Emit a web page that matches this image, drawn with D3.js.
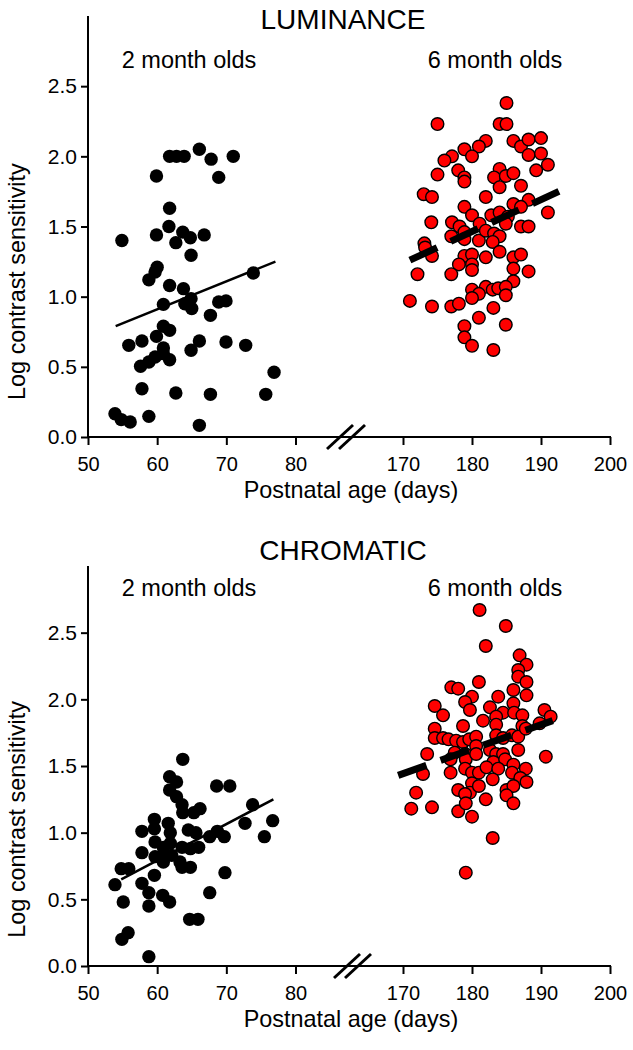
<!DOCTYPE html>
<html><head><meta charset="utf-8">
<script src="https://cdn.jsdelivr.net/npm/d3@7"></script>
<style>body{margin:0;background:#fff}svg{display:block}text{font-family:"Liberation Sans",Arial,Helvetica,sans-serif;fill:#000}</style>
</head><body><svg id="c" width="633" height="1050"></svg>
<script>
// ---------- data ----------
const xTicksLeft = [50, 60, 70, 80];
const xTicksRight = [170, 180, 190, 200];
const yTicks = [0, 0.5, 1.0, 1.5, 2.0, 2.5];
const panelTitles = ["LUMINANCE", "CHROMATIC"];
const groupLabels = ["2 month olds", "6 month olds"];
const xAxisLabel = "Postnatal age (days)";
const yAxisLabel = "Log contrast sensitivity";

// Luminance, 2 month olds [age, log CS]
const lum2 = [[59.9,1.86],[61.8,2.0],[62.8,2.0],[63.9,2.0],[66.1,2.05],[67.8,1.98],[68.9,1.85],[71.0,2.0],[61.8,1.63],
[54.9,1.40],[59.9,1.44],[61.7,1.50],[63.7,1.46],[64.8,1.42],[66.8,1.44],[62.7,1.385],[64.9,1.295],[60.0,1.21],[59.7,1.176],
[58.8,1.12],[61.8,1.08],[63.8,1.057],[64.9,0.986],[64.0,0.95],[65.0,0.915],[60.9,0.945],[68.9,0.962],[69.95,0.97],[67.7,0.867],
[73.9,1.169],[60.9,0.789],[61.8,0.76],[59.9,0.717],[55.9,0.653],[57.8,0.684],[60.9,0.634],[66.1,0.684],[64.9,0.618],[69.95,0.677],
[72.8,0.653],[57.6,0.504],[58.8,0.534],[59.7,0.57],[60.9,0.594],[61.8,0.551],[76.9,0.461],[57.8,0.344],[62.7,0.314],[67.7,0.304],
[75.7,0.304],[53.9,0.166],[54.8,0.124],[56.1,0.107],[58.8,0.147],[66.1,0.083]];
// Luminance, 6 month olds
const lum6 = [[185.0,2.38],[175.0,2.23],[184.0,2.23],[185.0,2.23],[186.0,2.11],[187.1,2.07],[188.2,2.12],[190.0,2.13],[182.0,2.11],
[181.0,2.07],[178.9,2.05],[177.1,2.0],[176.0,1.97],[180.0,2.0],[188.2,2.01],[190.0,2.02],[189.3,1.9],[191.0,1.94],[175.0,1.87],
[178.0,1.9],[178.9,1.85],[178.9,1.82],[184.0,1.91],[183.2,1.85],[184.9,1.86],[186.0,1.88],[184.0,1.78],[187.1,1.79],[173.0,1.73],
[174.2,1.71],[182.0,1.71],[178.9,1.64],[188.2,1.69],[186.0,1.66],[187.1,1.64],[191.0,1.6],[174.1,1.53],[177.1,1.53],[178.2,1.5],
[180.0,1.58],[181.1,1.52],[182.8,1.58],[184.0,1.6],[185.2,1.57],[184.9,1.52],[187.1,1.5],[188.2,1.5],[177.0,1.43],[178.9,1.46],
[178.9,1.41],[181.0,1.4],[182.0,1.47],[183.2,1.45],[184.0,1.43],[183.0,1.39],[173.1,1.38],[173.2,1.35],[178.9,1.29],[180.0,1.3],
[182.0,1.28],[184.0,1.32],[186.0,1.28],[187.1,1.3],[174.2,1.29],[186.0,1.2],[188.2,1.18],[178.1,1.23],[180.0,1.23],[180.0,1.19],
[172.1,1.16],[177.0,1.16],[186.0,1.11],[182.0,1.07],[180.0,1.05],[181.0,1.02],[180.0,0.99],[183.0,1.05],[183.8,1.06],[184.9,1.07],
[184.9,1.01],[171.0,0.97],[174.2,0.93],[177.0,0.93],[178.1,0.95],[183.1,0.92],[181.0,0.85],[184.9,0.8],[178.9,0.79],[178.9,0.71],
[180.0,0.65],[183.1,0.62]];
// Chromatic, 2 month olds
const chr2 = [[63.7,1.55],[61.8,1.42],[62.8,1.38],[61.8,1.32],[62.8,1.27],[63.6,1.21],[63.7,1.15],[66.2,1.18],[65.3,1.15],[68.6,1.35],
[70.5,1.35],[73.8,1.21],[76.7,1.09],[72.7,1.07],[75.5,0.97],[69.7,0.97],[68.7,1.01],[67.6,0.97],[59.6,1.10],[59.6,1.03],[57.8,1.01],
[61.6,1.07],[61.9,1.00],[64.5,1.02],[65.6,1.00],[59.7,0.93],[60.9,0.89],[61.9,0.92],[63.6,0.89],[64.8,0.88],[66.0,0.89],[57.8,0.85],
[59.7,0.82],[60.9,0.83],[62.1,0.83],[60.9,0.78],[63.3,0.78],[63.6,0.74],[64.8,0.74],[54.8,0.73],[55.9,0.73],[59.6,0.68],[53.9,0.61],
[57.8,0.62],[69.8,0.70],[67.6,0.55],[58.8,0.55],[60.8,0.53],[61.8,0.48],[55.1,0.48],[58.8,0.45],[64.7,0.35],[65.9,0.35],[54.9,0.20],
[55.8,0.25],[58.8,0.07]];
// Chromatic, 6 month olds
const chr6 = [[181.1,2.67],[184.9,2.55],[182.0,2.40],[186.9,2.33],[187.9,2.26],[186.7,2.22],[186.7,2.17],[187.9,2.13],[181.0,2.13],
[187.9,2.03],[186.0,2.07],[177.0,2.09],[178.0,2.08],[180.0,2.02],[179.0,1.98],[179.7,1.92],[183.8,2.02],[186.0,1.97],[174.6,1.95],
[175.8,1.88],[182.6,1.94],[184.5,1.90],[186.1,1.90],[187.3,1.88],[190.5,1.92],[191.4,1.87],[181.6,1.84],[183.5,1.87],[183.5,1.81],
[187.3,1.80],[189.8,1.82],[174.6,1.78],[178.7,1.80],[174.6,1.71],[175.8,1.71],[176.6,1.70],[177.7,1.69],[178.7,1.68],[179.6,1.70],
[180.6,1.72],[180.6,1.65],[183.5,1.73],[184.5,1.71],[185.8,1.73],[186.7,1.72],[187.8,1.78],[173.5,1.59],[177.5,1.60],[176.9,1.55],
[179.0,1.59],[179.1,1.55],[180.6,1.59],[182.6,1.62],[183.5,1.59],[184.5,1.59],[186.7,1.62],[190.7,1.57],[183.1,1.53],[184.8,1.55],
[186.0,1.51],[187.8,1.48],[176.9,1.45],[172.9,1.44],[179.0,1.48],[180.0,1.45],[181.0,1.45],[182.1,1.49],[183.8,1.48],[185.8,1.45],
[187.0,1.41],[187.9,1.38],[183.0,1.40],[180.0,1.37],[178.0,1.32],[179.7,1.30],[185.0,1.32],[186.0,1.35],[171.9,1.30],[181.0,1.35],
[179.0,1.29],[185.0,1.28],[186.0,1.22],[182.0,1.25],[171.2,1.18],[174.2,1.19],[178.0,1.16],[179.1,1.22],[180.0,1.12],[183.0,0.96],
[179.1,0.70]];
// regression line end points [[age0, v0],[age1, v1]]
const lum2Fit = [[54.0,0.79],[77.1,1.25]];
const lum6Fit = [[171.0,1.26],[192.6,1.75]];
const chr2Fit = [[54.8,0.65],[76.8,1.25]];
const chr6Fit = [[169.3,1.43],[191.7,1.84]];

// ---------- drawing ----------
const svg = d3.select("#c");
const xL = d3.scaleLinear().domain([50, 80]).range([88, 295.5]);
const xR = d3.scaleLinear().domain([170, 200]).range([403, 610]);

const panels = [
  {title: panelTitles[0], y: d3.scaleLinear().domain([0, 3]).range([437, 16]), d2: lum2, d6: lum6, f2: lum2Fit, f6: lum6Fit,
   titleY: 29, subY: 68, brk: [340, 352]},
  {title: panelTitles[1], y: d3.scaleLinear().domain([0, 3]).range([966, 566]), d2: chr2, d6: chr6, f2: chr2Fit, f6: chr6Fit,
   titleY: 560, subY: 596, brk: [347, 358]}
];

panels.forEach(p => {
  const g = svg.append("g");
  const y = p.y;
  const y0 = y(0);
  // axes lines
  g.append("line").attr("x1", xL(50)).attr("x2", xL(50)).attr("y1", y(3)).attr("y2", y0)
    .attr("stroke", "#000").attr("stroke-width", 2);
  g.append("line").attr("x1", xL(50) - 1).attr("x2", xR(200) + 1).attr("y1", y0).attr("y2", y0)
    .attr("stroke", "#000").attr("stroke-width", 2);

  const ya = g.append("g").attr("transform", `translate(${xL(50)},0)`)
    .call(d3.axisLeft(y).tickValues(yTicks).tickFormat(d3.format(".1f")).tickSize(7).tickPadding(4));
  const xa1 = g.append("g").attr("transform", `translate(0,${y0})`)
    .call(d3.axisBottom(xL).tickValues(xTicksLeft).tickFormat(d3.format("d")).tickSize(8).tickPadding(12));
  const xa2 = g.append("g").attr("transform", `translate(0,${y0})`)
    .call(d3.axisBottom(xR).tickValues(xTicksRight).tickFormat(d3.format("d")).tickSize(8).tickPadding(12));
  [ya, xa1, xa2].forEach(a => {
    a.select(".domain").remove();
    a.selectAll(".tick line").attr("stroke", "#000").attr("stroke-width", 2);
    a.selectAll(".tick text").attr("fill", "#000").style("font-family", '"Liberation Sans",Arial,sans-serif');
  });
  ya.selectAll(".tick text").style("font-size", "21px");
  xa1.selectAll(".tick text").style("font-size", "20px");
  xa2.selectAll(".tick text").style("font-size", "20px");

  // axis break marks
  p.brk.forEach(cx => {
    g.append("line").attr("x1", cx - 13).attr("y1", y0 + 12).attr("x2", cx + 13).attr("y2", y0 - 12)
      .attr("stroke", "#000").attr("stroke-width", 3);
  });

  // labels
  g.append("text").attr("x", 343).attr("y", p.titleY).attr("text-anchor", "middle")
    .style("font-size", "28px").text(p.title);
  g.append("text").attr("x", 189).attr("y", p.subY).attr("text-anchor", "middle")
    .style("font-size", "23.5px").text(groupLabels[0]);
  g.append("text").attr("x", 495).attr("y", p.subY).attr("text-anchor", "middle")
    .style("font-size", "23.5px").text(groupLabels[1]);
  g.append("text").attr("x", 351).attr("y", y0 + 61).attr("text-anchor", "middle")
    .style("font-size", "23.4px").text(xAxisLabel);
  g.append("text").attr("transform", `translate(25,${(y(0) + y(2.5)) / 2 + 20}) rotate(-90)`).attr("text-anchor", "middle")
    .style("font-size", "23.4px").text(yAxisLabel);

  // points
  g.append("g").selectAll("circle").data(p.d2).join("circle")
    .attr("cx", d => xL(d[0])).attr("cy", d => y(d[1])).attr("r", 6.7).attr("fill", "#000");
  g.append("g").selectAll("circle").data(p.d6).join("circle")
    .attr("cx", d => xR(d[0])).attr("cy", d => y(d[1])).attr("r", 6.3)
    .attr("fill", "#ff0000").attr("stroke", "#000").attr("stroke-width", 1.4);

  // regression lines
  g.append("line").attr("x1", xL(p.f2[0][0])).attr("y1", y(p.f2[0][1])).attr("x2", xL(p.f2[1][0])).attr("y2", y(p.f2[1][1]))
    .attr("stroke", "#000").attr("stroke-width", 2.5);
  g.append("line").attr("x1", xR(p.f6[0][0])).attr("y1", y(p.f6[0][1])).attr("x2", xR(p.f6[1][0])).attr("y2", y(p.f6[1][1]))
    .attr("stroke", "#000").attr("stroke-width", 7).attr("stroke-dasharray", "30,15");
});
</script></body></html>
